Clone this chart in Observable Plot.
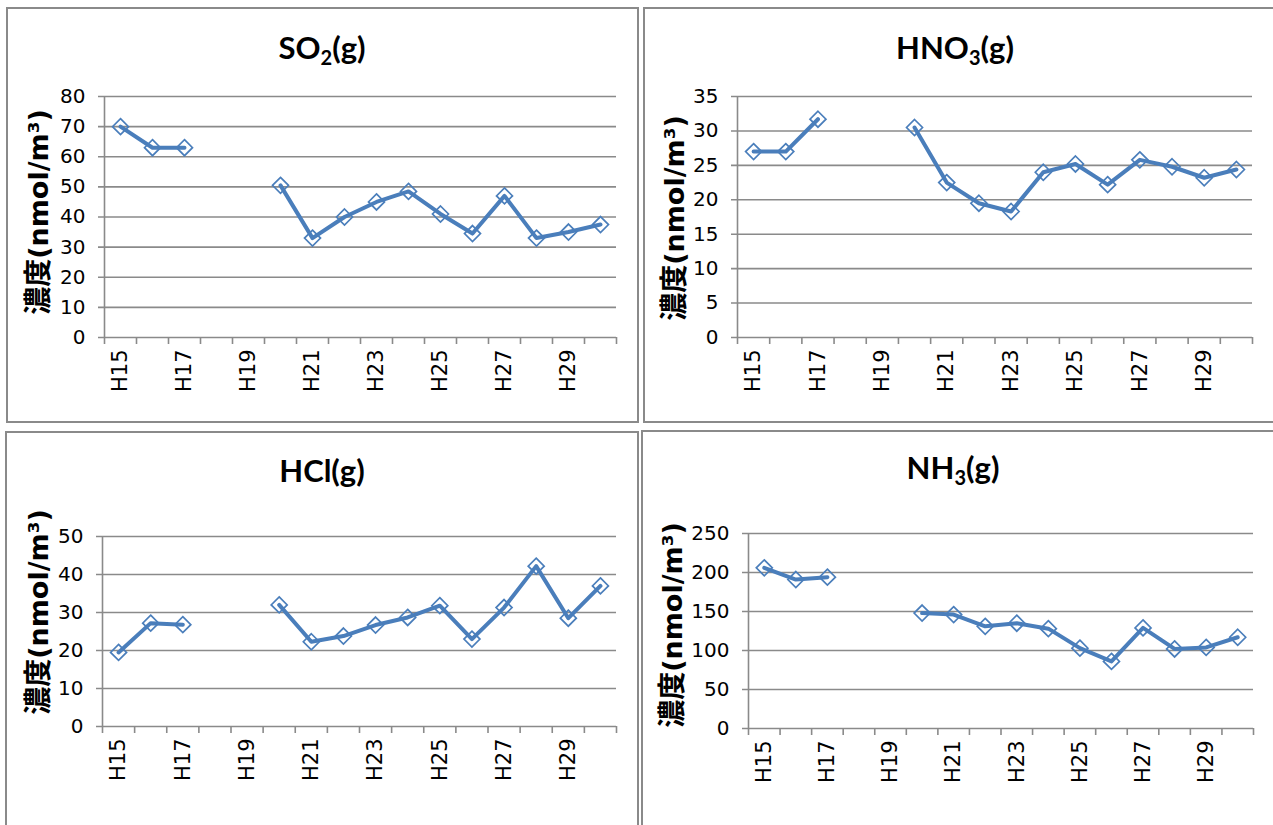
<!DOCTYPE html>
<html>
<head>
<meta charset="utf-8">
<script src="https://cdn.jsdelivr.net/npm/d3@7"></script>
<script src="https://cdn.jsdelivr.net/npm/@observablehq/plot@0.6"></script>
<style>
  html, body { margin: 0; padding: 0; background: #fff; }
  body { width: 1273px; height: 825px; position: relative; overflow: hidden; font-family: Lato, "Noto Sans CJK JP", sans-serif; }
  .panel { position: absolute; box-sizing: border-box; border: 2px solid #8a8a8a; background: #fff; }
  .title { position: absolute; transform: translate(-50%, -50%); font-weight: bold; font-size: 31px; white-space: nowrap; color: #000; }
  .title sub { font-size: 20px; vertical-align: -6px; line-height: 0; }
  .ylab { position: absolute; transform: translate(-50%, -50%) rotate(-90deg); font-weight: bold; font-size: 28px; white-space: nowrap; color: #000; font-family: "Noto Sans CJK JP", sans-serif; }
  .ylab .lat { font-family: "DejaVu Sans", sans-serif; font-size: 27px; }
  .chart { position: absolute; }
  .chart text { font-family: "DejaVu Sans", sans-serif; }
</style>
</head>
<body>
<script>
// Categories (fiscal years)
const categories = ["H15","H16","H17","H18","H19","H20","H21","H22","H23","H24","H25","H26","H27","H28","H29","H30"];
const tickLabels = ["H15","H17","H19","H21","H23","H25","H27","H29"];

// Series values (nmol/m3); null = no data
const so2  = [70, 63, 63, null, null, 50.5, 33, 40, 45, 48.5, 41, 34.5, 47, 33, 35, 37.5];
const hno3 = [27, 27, 31.7, null, null, 30.5, 22.5, 19.5, 18.3, 24, 25.2, 22.2, 25.8, 24.8, 23.2, 24.4];
const hcl  = [19.5, 27.2, 26.8, null, null, 32, 22.3, 23.8, 26.7, 28.7, 31.8, 23, 31.3, 42.2, 28.5, 37];
const nh3  = [206, 191, 194, null, null, 148, 146, 131, 135, 128, 103, 86, 129, 102, 104, 117];

// y-axis ticks per panel
const so2Ticks  = [0,10,20,30,40,50,60,70,80];
const hno3Ticks = [0,5,10,15,20,25,30,35];
const hclTicks  = [0,10,20,30,40,50];
const nh3Ticks  = [0,50,100,150,200,250];

const BLUE = "#4a7ebb";
const GRID = "#8a8a8a";

function addBox(cls, left, top, width, height) {
  const d = document.createElement("div");
  d.className = cls;
  Object.assign(d.style, {left: left + "px", top: top + "px", width: width + "px", height: height + "px"});
  document.body.appendChild(d);
  return d;
}
function addText(cls, html, x, y) {
  const d = document.createElement("div");
  d.className = cls;
  d.innerHTML = html;
  d.style.left = x + "px";
  d.style.top = y + "px";
  document.body.appendChild(d);
}

function makeChart({values, ticks, left, top, axisX, rightX, topY, bottomY}) {
  const data = categories.map((c, i) => ({i, c, v: values[i]}));
  const n = categories.length;
  const boundaries = categories.map((_, i) => i - 0.5).concat([n - 0.5]);
  const labelIdx = tickLabels.map(t => categories.indexOf(t));
  const width = rightX - left + 10;
  const height = bottomY - top + 70;
  const chart = Plot.plot({
    width, height,
    marginLeft: axisX - left,
    marginRight: width - (rightX - left),
    marginTop: topY - top,
    marginBottom: height - (bottomY - top),
    style: {fontFamily: "'DejaVu Sans', sans-serif", fontSize: "20px", color: "#000", background: "transparent", overflow: "visible"},
    x: {type: "linear", domain: [-0.5, n - 0.5]},
    y: {domain: [ticks[0], ticks[ticks.length - 1]]},
    marks: [
      Plot.ruleY(ticks, {stroke: GRID, strokeWidth: 1.6, x1: -0.5, x2: n - 0.5, insetLeft: -6}),
      Plot.ruleX([-0.5], {stroke: GRID, strokeWidth: 1.6}),
      Plot.axisY({ticks, tickSize: 0, tickPadding: 19, fontSize: 20, label: null, tickFormat: d => String(d)}),
      Plot.axisX({ticks: boundaries, tickSize: 7, stroke: GRID, strokeWidth: 1.6, tickFormat: () => "", label: null}),
      Plot.axisX({ticks: labelIdx, tickSize: 0, tickPadding: 12, tickRotate: -90, fontSize: 21, tickFormat: i => categories[i], label: null}),
      Plot.line(data, {x: "i", y: "v", stroke: BLUE, strokeWidth: 4}),
      Plot.dot(data.filter(d => d.v != null), {x: "i", y: "v", symbol: "diamond2", r: 7.2, stroke: BLUE, strokeWidth: 1.7, fill: "none"})
    ]
  });
  chart.classList.add("chart");
  chart.style.left = left + "px";
  chart.style.top = top + "px";
  chart.style.position = "absolute";
  document.body.appendChild(chart);
}

// Panels (frames)
addBox("panel", 6, 7, 633, 416);
addBox("panel", 643, 7, 640, 416);
addBox("panel", 5, 431, 634, 400);
addBox("panel", 641, 430, 640, 400);

// Titles
addText("title", "SO<sub>2</sub>(g)", 322, 47);
addText("title", "HNO<sub>3</sub>(g)", 955, 47);
addText("title", "HCl(g)", 322, 470);
addText("title", "NH<sub>3</sub>(g)", 953, 467);

// Y labels
const ylabHTML = '濃度<span class="lat">(nmol/m³)</span>';
addText("ylab", ylabHTML, 36, 212);
addText("ylab", ylabHTML, 672, 218);
addText("ylab", ylabHTML, 36, 612);
addText("ylab", ylabHTML, 670, 625);

makeChart({values: so2,  ticks: so2Ticks,  left: 40,  top: 80,  axisX: 104, rightX: 616,  topY: 96,  bottomY: 337});
makeChart({values: hno3, ticks: hno3Ticks, left: 676, top: 80,  axisX: 737, rightX: 1252, topY: 96,  bottomY: 337});
makeChart({values: hcl,  ticks: hclTicks,  left: 40,  top: 520, axisX: 102, rightX: 616,  topY: 536, bottomY: 726});
makeChart({values: nh3,  ticks: nh3Ticks,  left: 686, top: 517, axisX: 748, rightX: 1253, topY: 533, bottomY: 728});
</script>
</body>
</html>
